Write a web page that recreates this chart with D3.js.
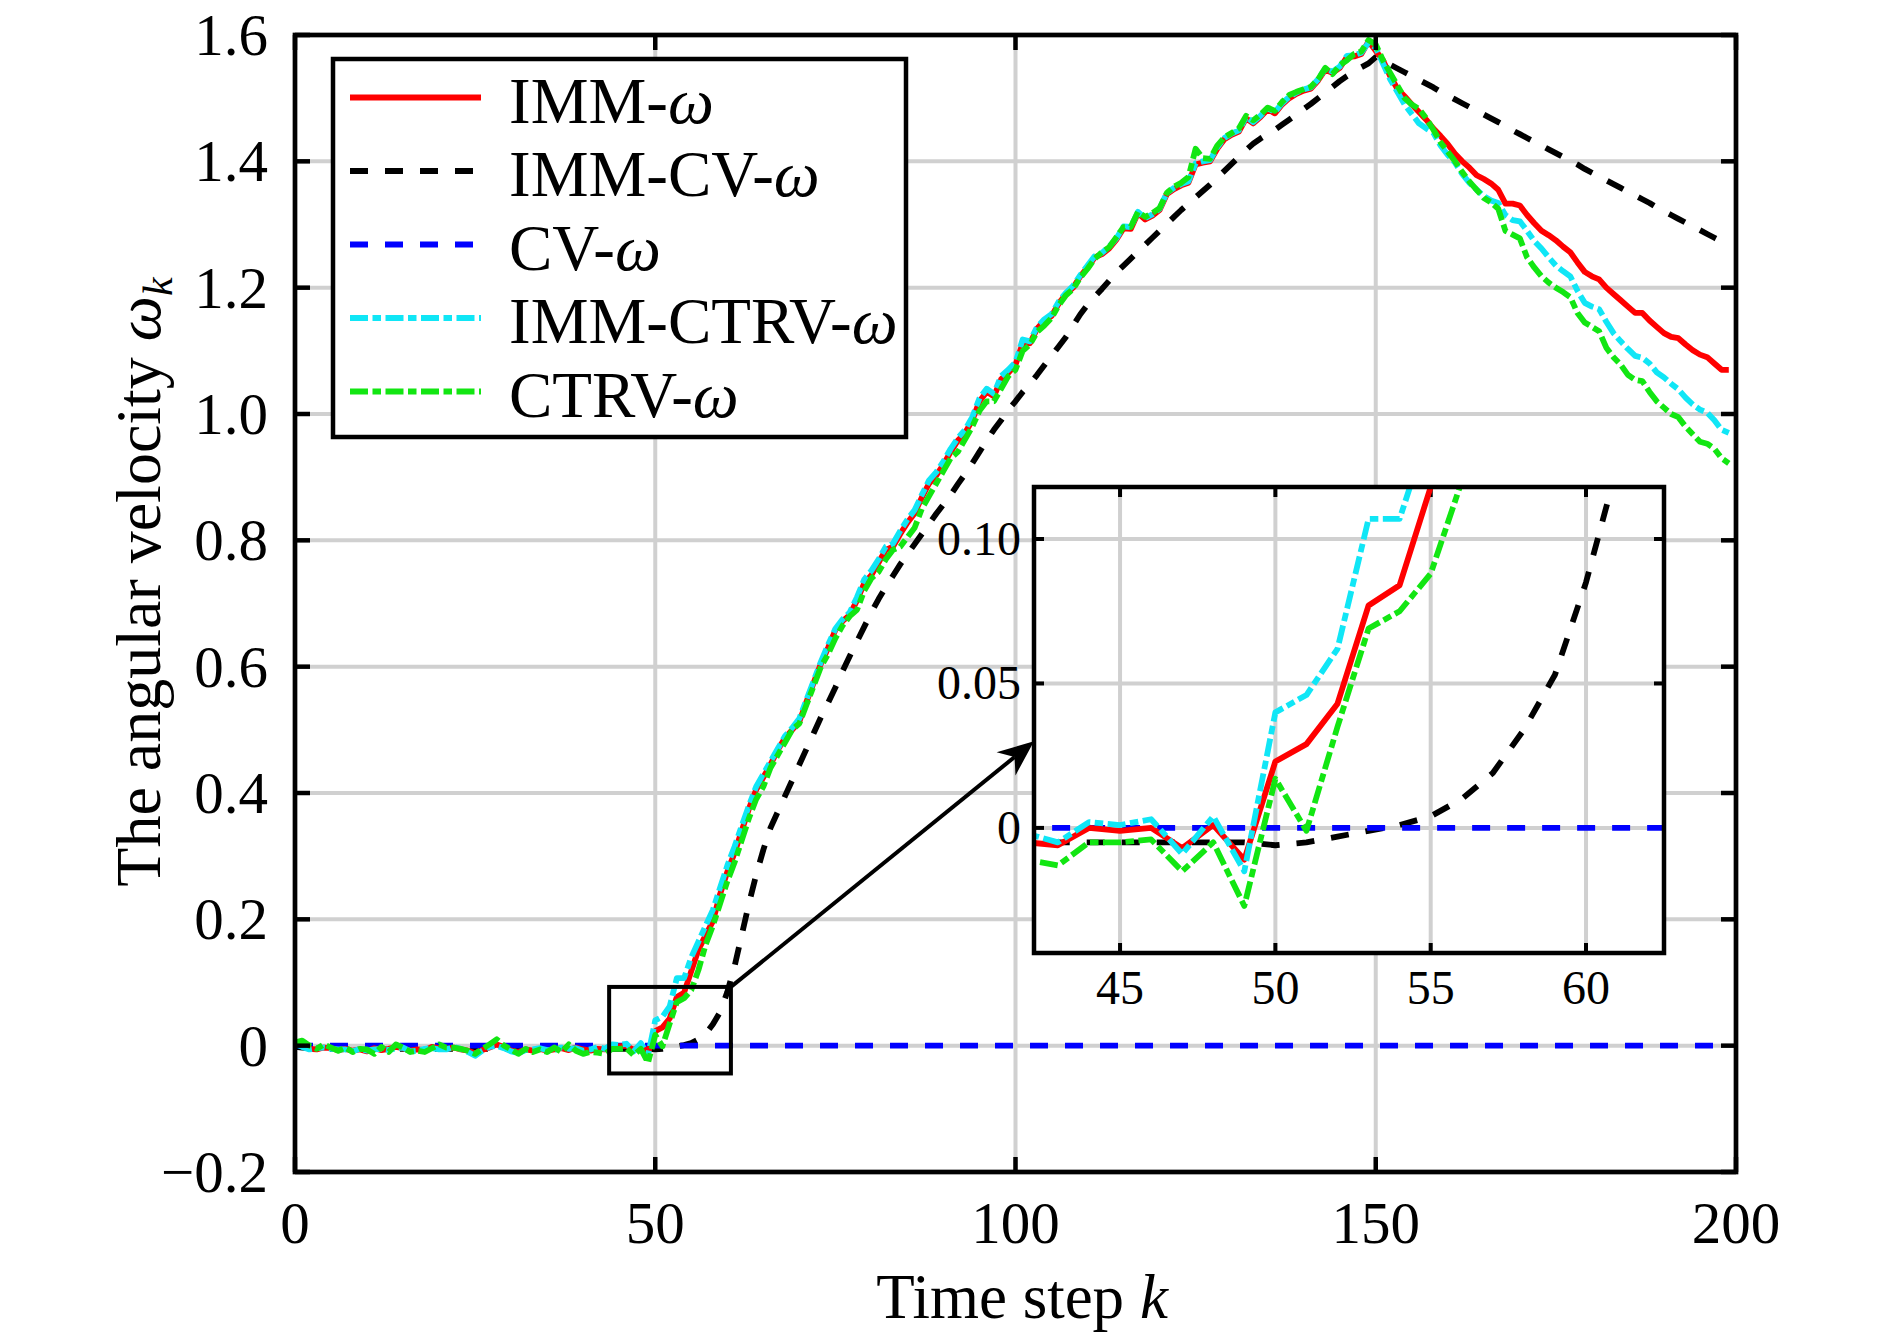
<!DOCTYPE html>
<html><head><meta charset="utf-8">
<script src="https://cdn.jsdelivr.net/npm/d3@7"></script>
<style>html,body{margin:0;padding:0;background:#fff;} svg{display:block;}</style>
</head><body>
<svg id="chart" width="1890" height="1341"></svg>
<script>
// ---------- data ----------
const timeSteps = d3.range(0, 200); // k = 0..199

const immOmega = [
 0.005, 0.000,-0.005,-0.006,-0.003,-0.004,-0.007,-0.005,-0.008,-0.006,
-0.009,-0.004,-0.007,-0.005,-0.002,-0.004,-0.008,-0.006,-0.007,-0.002,
-0.004,-0.005,-0.003,-0.006,-0.008,-0.012,-0.007,-0.003, 0.002,-0.002,
-0.008,-0.010,-0.006,-0.008,-0.005,-0.008,-0.006,-0.004,-0.007,-0.003,
-0.006,-0.008,-0.005,-0.006, 0.000,-0.001, 0.000,-0.007, 0.001,-0.011,
 0.023, 0.029, 0.043, 0.077, 0.084, 0.118, 0.152, 0.175, 0.197, 0.240,
 0.275, 0.305, 0.340, 0.375, 0.405, 0.425, 0.445, 0.468, 0.487, 0.500,
 0.513, 0.545, 0.575, 0.605, 0.630, 0.658, 0.672, 0.682, 0.705, 0.732,
 0.745, 0.765, 0.785, 0.790, 0.810, 0.828, 0.843, 0.868, 0.890, 0.903,
 0.920, 0.940, 0.958, 0.970, 0.990, 1.020, 1.035, 1.028, 1.055, 1.065,
 1.078, 1.112, 1.112, 1.135, 1.148, 1.155, 1.175, 1.190, 1.200, 1.218,
 1.232, 1.248, 1.253, 1.262, 1.276, 1.294, 1.293, 1.318, 1.308, 1.314,
 1.323, 1.348, 1.356, 1.362, 1.366, 1.395, 1.398, 1.400, 1.420, 1.435,
 1.442, 1.447, 1.468, 1.460, 1.470, 1.482, 1.476, 1.490, 1.500, 1.507,
 1.512, 1.515, 1.528, 1.545, 1.540, 1.548, 1.565, 1.566, 1.570, 1.590,
 1.575, 1.560, 1.535, 1.515, 1.503, 1.490, 1.478, 1.466, 1.452, 1.440,
 1.427, 1.412, 1.400, 1.390, 1.378, 1.372, 1.365, 1.355, 1.333, 1.333,
 1.330, 1.315, 1.302, 1.290, 1.283, 1.275, 1.265, 1.256, 1.240, 1.225,
 1.218, 1.213, 1.200, 1.190, 1.180, 1.170, 1.160, 1.160, 1.148, 1.138,
 1.128, 1.122, 1.120, 1.110, 1.101, 1.094, 1.090, 1.080, 1.070, 1.070
];

const immCvOmega = [
-0.002,-0.003,-0.004,-0.004,-0.005,-0.005,-0.005,-0.005,-0.005,-0.005,
-0.005,-0.005,-0.005,-0.005,-0.005,-0.005,-0.005,-0.005,-0.005,-0.005,
-0.005,-0.005,-0.005,-0.005,-0.005,-0.005,-0.005,-0.005,-0.005,-0.005,
-0.005,-0.005,-0.005,-0.005,-0.005,-0.005,-0.005,-0.005,-0.005,-0.005,
-0.005,-0.005,-0.005,-0.005,-0.005,-0.005,-0.005,-0.005,-0.005,-0.005,
-0.006,-0.005,-0.003,-0.001, 0.001, 0.004, 0.010, 0.019, 0.034, 0.053,
 0.085, 0.125, 0.175, 0.225, 0.270, 0.310, 0.345, 0.370, 0.395, 0.420,
 0.445, 0.470, 0.495, 0.520, 0.543, 0.567, 0.593, 0.617, 0.640, 0.663,
 0.686, 0.707, 0.726, 0.744, 0.762, 0.778, 0.794, 0.810, 0.826, 0.842,
 0.857, 0.872, 0.889, 0.905, 0.922, 0.940, 0.958, 0.975, 0.990, 1.007,
 1.020, 1.035, 1.048, 1.062, 1.077, 1.092, 1.107, 1.122, 1.140, 1.158,
 1.173, 1.186, 1.198, 1.211, 1.224, 1.235, 1.246, 1.257, 1.268, 1.279,
 1.290, 1.301, 1.312, 1.323, 1.333, 1.343, 1.353, 1.363, 1.374, 1.385,
 1.396, 1.407, 1.418, 1.428, 1.436, 1.443, 1.450, 1.458, 1.466, 1.474,
 1.483, 1.491, 1.500, 1.509, 1.518, 1.527, 1.535, 1.542, 1.549, 1.555,
 1.565, 1.559, 1.553, 1.547, 1.541, 1.535, 1.529, 1.523, 1.517, 1.510,
 1.504, 1.498, 1.492, 1.486, 1.480, 1.474, 1.468, 1.462, 1.456, 1.449,
 1.443, 1.437, 1.431, 1.425, 1.419, 1.413, 1.407, 1.401, 1.395, 1.388,
 1.382, 1.376, 1.370, 1.364, 1.358, 1.352, 1.346, 1.340, 1.334, 1.327,
 1.321, 1.315, 1.309, 1.303, 1.297, 1.291, 1.285, 1.279, 1.273, 1.266
];

const cvOmega = [
 0,0,0,0,0,0,0,0,0,0, 0,0,0,0,0,0,0,0,0,0,
 0,0,0,0,0,0,0,0,0,0, 0,0,0,0,0,0,0,0,0,0,
 0,0,0,0,0,0,0,0,0,0, 0,0,0,0,0,0,0,0,0,0,
 0,0,0,0,0,0,0,0,0,0, 0,0,0,0,0,0,0,0,0,0,
 0,0,0,0,0,0,0,0,0,0, 0,0,0,0,0,0,0,0,0,0,
 0,0,0,0,0,0,0,0,0,0, 0,0,0,0,0,0,0,0,0,0,
 0,0,0,0,0,0,0,0,0,0, 0,0,0,0,0,0,0,0,0,0,
 0,0,0,0,0,0,0,0,0,0, 0,0,0,0,0,0,0,0,0,0,
 0,0,0,0,0,0,0,0,0,0, 0,0,0,0,0,0,0,0,0,0,
 0,0,0,0,0,0,0,0,0,0, 0,0,0,0,0,0,0,0,0,0
];

const immCtrvOmega = [
 0.003,-0.002,-0.006,-0.004,-0.003,-0.005,-0.006,-0.006,-0.009,-0.005,
-0.008,-0.006,-0.005,-0.007,-0.004,-0.003,-0.009,-0.008,-0.005,-0.004,
-0.006,-0.006,-0.002,-0.005,-0.010,-0.016,-0.008,-0.002, 0.000,-0.004,
-0.009,-0.012,-0.007,-0.006,-0.004,-0.007,-0.007,-0.003,-0.005,-0.004,
-0.008,-0.006,-0.002,-0.005, 0.002, 0.001, 0.003,-0.009, 0.004,-0.015,
 0.040, 0.046, 0.062, 0.107, 0.107, 0.140, 0.165, 0.190, 0.215, 0.250,
 0.285, 0.315, 0.348, 0.380, 0.410, 0.430, 0.450, 0.470, 0.490, 0.503,
 0.518, 0.548, 0.578, 0.608, 0.635, 0.660, 0.675, 0.686, 0.710, 0.738,
 0.752, 0.770, 0.790, 0.795, 0.815, 0.833, 0.848, 0.872, 0.895, 0.908,
 0.925, 0.945, 0.962, 0.975, 0.995, 1.025, 1.040, 1.032, 1.060, 1.070,
 1.082, 1.118, 1.115, 1.138, 1.150, 1.158, 1.178, 1.192, 1.203, 1.220,
 1.235, 1.250, 1.255, 1.265, 1.278, 1.297, 1.296, 1.320, 1.310, 1.316,
 1.325, 1.350, 1.358, 1.364, 1.368, 1.397, 1.400, 1.402, 1.422, 1.437,
 1.444, 1.449, 1.470, 1.462, 1.472, 1.484, 1.478, 1.492, 1.502, 1.509,
 1.514, 1.517, 1.530, 1.547, 1.542, 1.550, 1.567, 1.568, 1.572, 1.588,
 1.580, 1.555, 1.530, 1.510, 1.490, 1.475, 1.460, 1.452, 1.445, 1.425,
 1.410, 1.398, 1.380, 1.366, 1.355, 1.345, 1.338, 1.334, 1.315, 1.307,
 1.305, 1.290, 1.274, 1.262, 1.248, 1.235, 1.226, 1.218, 1.195, 1.176,
 1.170, 1.166, 1.146, 1.128, 1.115, 1.103, 1.092, 1.089, 1.080, 1.066,
 1.058, 1.048, 1.039, 1.026, 1.015, 1.007, 1.002, 0.990, 0.975, 0.970
];

const ctrvOmega = [
 0.005, 0.008, 0.000,-0.005, 0.002,-0.003,-0.008,-0.003,-0.010,-0.005,
-0.006,-0.013,-0.002,-0.010, 0.002,-0.003,-0.010,-0.008,-0.010,-0.004,
 0.002,-0.003,-0.003,-0.005,-0.008,-0.013,-0.005, 0.002, 0.010, 0.000,
-0.006,-0.013,-0.005,-0.010,-0.006,-0.010,-0.003,-0.010, 0.002,-0.008,
-0.013,-0.010,-0.011,-0.013,-0.005,-0.005,-0.004,-0.015,-0.005,-0.027,
 0.017,-0.001, 0.035, 0.069, 0.075, 0.088, 0.120, 0.160, 0.190, 0.225,
 0.260, 0.290, 0.325, 0.360, 0.390, 0.410, 0.440, 0.460, 0.480, 0.500,
 0.510, 0.540, 0.570, 0.600, 0.620, 0.645, 0.665, 0.680, 0.690, 0.720,
 0.740, 0.750, 0.770, 0.785, 0.790, 0.805, 0.820, 0.850, 0.870, 0.890,
 0.910, 0.930, 0.940, 0.960, 0.980, 1.005, 1.020, 1.020, 1.040, 1.060,
 1.070, 1.100, 1.110, 1.130, 1.140, 1.152, 1.172, 1.188, 1.198, 1.216,
 1.230, 1.246, 1.256, 1.264, 1.280, 1.296, 1.296, 1.320, 1.312, 1.318,
 1.326, 1.350, 1.360, 1.366, 1.375, 1.420, 1.405, 1.404, 1.425, 1.438,
 1.445, 1.452, 1.472, 1.465, 1.474, 1.485, 1.480, 1.494, 1.505, 1.510,
 1.514, 1.518, 1.530, 1.548, 1.538, 1.552, 1.560, 1.570, 1.574, 1.592,
 1.585, 1.560, 1.540, 1.520, 1.500, 1.490, 1.483, 1.468, 1.450, 1.430,
 1.415, 1.400, 1.383, 1.368, 1.355, 1.342, 1.335, 1.325, 1.290, 1.284,
 1.278, 1.248, 1.232, 1.218, 1.208, 1.200, 1.193, 1.185, 1.160, 1.145,
 1.138, 1.131, 1.105, 1.090, 1.078, 1.062, 1.054, 1.052, 1.035, 1.020,
 1.010, 1.000, 0.995, 0.980, 0.968, 0.956, 0.953, 0.945, 0.930, 0.922
];

const seriesLabels = ["IMM-", "IMM-CV-", "CV-", "IMM-CTRV-", "CTRV-"];
const xTickValues = [0, 50, 100, 150, 200];
const xTickLabels = ["0", "50", "100", "150", "200"];
const yTickValues = [-0.2, 0, 0.2, 0.4, 0.6, 0.8, 1.0, 1.2, 1.4, 1.6];
const yTickLabels = ["\u22120.2", "0", "0.2", "0.4", "0.6", "0.8", "1.0", "1.2", "1.4", "1.6"];
const insetXTickValues = [45, 50, 55, 60];
const insetXTickLabels = ["45", "50", "55", "60"];
const insetYTickValues = [0, 0.05, 0.10];
const insetYTickLabels = ["0", "0.05", "0.10"];
const insetXDomain = [42.23, 62.51];
const insetYDomain = [-0.0433, 0.118];
const zoomBoxX = [43.6, 60.5];
const zoomBoxY = [-0.044, 0.093];
const arrowTargetY = 0.030;

// ---------- styles / layout ----------
const FONT = "'Liberation Serif','Times New Roman',serif";
const LW = 5.8;
const styles = [
  { color: "#ff0000", dash: null },
  { color: "#000000", dash: "18,17" },
  { color: "#0000ff", dash: "18,17" },
  { color: "#10e6f6", dash: "18,4.5,8.5,4.5" },
  { color: "#12e612", dash: "18,4.5,8.5,4.5" }
];
const seriesValues = [immOmega, immCvOmega, cvOmega, immCtrvOmega, ctrvOmega];
const drawOrder = [1, 2, 0, 3, 4];

const svg = d3.select("#chart");
svg.append("rect").attr("width", 1890).attr("height", 1341).attr("fill", "#fff");

const M = { left: 295, right: 1736, top: 35, bottom: 1172 };
const x = d3.scaleLinear().domain([0, 200]).range([M.left, M.right]);
const y = d3.scaleLinear().domain([-0.2, 1.6]).range([M.bottom, M.top]);

const defs = svg.append("defs");
defs.append("clipPath").attr("id", "mainClip").append("rect")
  .attr("x", M.left).attr("y", M.top).attr("width", M.right - M.left).attr("height", M.bottom - M.top);

const GRID = "#d0d0d0";
const GW = 4;
// grid
const grid = svg.append("g");
xTickValues.slice(1, -1).forEach(v => grid.append("line").attr("x1", x(v)).attr("x2", x(v)).attr("y1", M.top).attr("y2", M.bottom).attr("stroke", GRID).attr("stroke-width", GW));
yTickValues.slice(1, -1).forEach(v => grid.append("line").attr("x1", M.left).attr("x2", M.right).attr("y1", y(v)).attr("y2", y(v)).attr("stroke", GRID).attr("stroke-width", GW));

// series main
const line = d3.line().x((d, i) => x(timeSteps[i])).y(d => y(d));
const gMain = svg.append("g").attr("clip-path", "url(#mainClip)");
drawOrder.forEach(si => {
  gMain.append("path").datum(seriesValues[si]).attr("d", line)
    .attr("fill", "none").attr("stroke", styles[si].color).attr("stroke-width", LW)
    .attr("stroke-dasharray", styles[si].dash).attr("stroke-linejoin", "round");
});

// axes box & ticks
const axes = svg.append("g");
const TL = 15;
xTickValues.forEach(v => {
  axes.append("line").attr("x1", x(v)).attr("x2", x(v)).attr("y1", M.bottom).attr("y2", M.bottom - TL).attr("stroke", "#000").attr("stroke-width", 4.5);
  axes.append("line").attr("x1", x(v)).attr("x2", x(v)).attr("y1", M.top).attr("y2", M.top + TL).attr("stroke", "#000").attr("stroke-width", 4.5);
});
yTickValues.forEach(v => {
  axes.append("line").attr("x1", M.left).attr("x2", M.left + TL).attr("y1", y(v)).attr("y2", y(v)).attr("stroke", "#000").attr("stroke-width", 4.5);
  axes.append("line").attr("x1", M.right).attr("x2", M.right - TL).attr("y1", y(v)).attr("y2", y(v)).attr("stroke", "#000").attr("stroke-width", 4.5);
});
axes.append("rect").attr("x", M.left).attr("y", M.top).attr("width", M.right - M.left).attr("height", M.bottom - M.top)
  .attr("fill", "none").attr("stroke", "#000").attr("stroke-width", 4.7);

// tick labels
xTickValues.forEach((v, i) => svg.append("text").attr("x", x(v)).attr("y", M.bottom + 71)
  .attr("text-anchor", "middle").attr("font-family", FONT).attr("font-size", 59).text(xTickLabels[i]));
yTickValues.forEach((v, i) => svg.append("text").attr("x", M.left - 27).attr("y", y(v) + 20)
  .attr("text-anchor", "end").attr("font-family", FONT).attr("font-size", 59).text(yTickLabels[i]));

// axis titles
const xt = svg.append("text").attr("x", 1022).attr("y", 1318).attr("text-anchor", "middle")
  .attr("font-family", FONT).attr("font-size", 63);
xt.append("tspan").text("Time step ");
xt.append("tspan").attr("font-style", "italic").text("k");

const yt = svg.append("text").attr("transform", "translate(160,582) rotate(-90)").attr("text-anchor", "middle")
  .attr("font-family", FONT).attr("font-size", 64);
yt.append("tspan").text("The angular velocity ");
yt.append("tspan").attr("font-style", "italic").text("\u03c9");
yt.append("tspan").attr("font-style", "italic").attr("font-size", 42).attr("dy", 12).text("k");

// zoom box on main plot
svg.append("rect").attr("x", x(zoomBoxX[0])).attr("y", y(zoomBoxY[1]))
  .attr("width", x(zoomBoxX[1]) - x(zoomBoxX[0])).attr("height", y(zoomBoxY[0]) - y(zoomBoxY[1]))
  .attr("fill", "none").attr("stroke", "#000").attr("stroke-width", 4);

// ---------- inset ----------
const I = { left: 1034, right: 1664, top: 487, bottom: 953 };
const xi = d3.scaleLinear().domain(insetXDomain).range([I.left, I.right]);
const yi = d3.scaleLinear().domain(insetYDomain).range([I.bottom, I.top]);
defs.append("clipPath").attr("id", "insetClip").append("rect")
  .attr("x", I.left).attr("y", I.top).attr("width", I.right - I.left).attr("height", I.bottom - I.top);

svg.append("rect").attr("x", I.left).attr("y", I.top).attr("width", I.right - I.left).attr("height", I.bottom - I.top).attr("fill", "#fff");
const ig = svg.append("g");
insetXTickValues.forEach(v => ig.append("line").attr("x1", xi(v)).attr("x2", xi(v)).attr("y1", I.top).attr("y2", I.bottom).attr("stroke", GRID).attr("stroke-width", GW));
insetYTickValues.forEach(v => ig.append("line").attr("x1", I.left).attr("x2", I.right).attr("y1", yi(v)).attr("y2", yi(v)).attr("stroke", GRID).attr("stroke-width", GW));

const lineI = d3.line().x((d, i) => xi(timeSteps[i])).y(d => yi(d));
const gIn = svg.append("g").attr("clip-path", "url(#insetClip)");
drawOrder.forEach(si => {
  gIn.append("path").datum(seriesValues[si]).attr("d", lineI)
    .attr("fill", "none").attr("stroke", styles[si].color).attr("stroke-width", LW)
    .attr("stroke-dasharray", styles[si].dash).attr("stroke-linejoin", "round");
});
const TLi = 10;
insetXTickValues.forEach(v => {
  ig.append("line").attr("x1", xi(v)).attr("x2", xi(v)).attr("y1", I.bottom).attr("y2", I.bottom - TLi).attr("stroke", "#000").attr("stroke-width", 4);
  ig.append("line").attr("x1", xi(v)).attr("x2", xi(v)).attr("y1", I.top).attr("y2", I.top + TLi).attr("stroke", "#000").attr("stroke-width", 4);
});
insetYTickValues.forEach(v => {
  ig.append("line").attr("x1", I.left).attr("x2", I.left + TLi).attr("y1", yi(v)).attr("y2", yi(v)).attr("stroke", "#000").attr("stroke-width", 4);
  ig.append("line").attr("x1", I.right).attr("x2", I.right - TLi).attr("y1", yi(v)).attr("y2", yi(v)).attr("stroke", "#000").attr("stroke-width", 4);
});
svg.append("rect").attr("x", I.left).attr("y", I.top).attr("width", I.right - I.left).attr("height", I.bottom - I.top)
  .attr("fill", "none").attr("stroke", "#000").attr("stroke-width", 4.5);
insetXTickValues.forEach((v, i) => svg.append("text").attr("x", xi(v)).attr("y", I.bottom + 51)
  .attr("text-anchor", "middle").attr("font-family", FONT).attr("font-size", 48).text(insetXTickLabels[i]));
insetYTickValues.forEach((v, i) => svg.append("text").attr("x", I.left - 13).attr("y", yi(v) + 16)
  .attr("text-anchor", "end").attr("font-family", FONT).attr("font-size", 48).text(insetYTickLabels[i]));

// arrow
const ax0 = x(zoomBoxX[1]), ay0 = y(zoomBoxY[1]);
const ax1 = xi(insetXDomain[0]), ay1 = yi(arrowTargetY);
const dx = ax1 - ax0, dy = ay1 - ay0, len = Math.hypot(dx, dy);
const ux = dx / len, uy = dy / len, nx = -uy, ny = ux;
const HL = 36, HW = 15, NOTCH = 11;
svg.append("line").attr("x1", ax0).attr("y1", ay0).attr("x2", ax1 - ux * (HL - NOTCH)).attr("y2", ay1 - uy * (HL - NOTCH))
  .attr("stroke", "#000").attr("stroke-width", 4);
svg.append("path").attr("d", `M${ax1},${ay1} L${ax1 - ux * HL + nx * HW},${ay1 - uy * HL + ny * HW} L${ax1 - ux * (HL - NOTCH)},${ay1 - uy * (HL - NOTCH)} L${ax1 - ux * HL - nx * HW},${ay1 - uy * HL - ny * HW} Z`)
  .attr("fill", "#000");

// ---------- legend ----------
const L = { x: 333, y: 59, w: 573, h: 378 };
const lg = svg.append("g");
lg.append("rect").attr("x", L.x).attr("y", L.y).attr("width", L.w).attr("height", L.h)
  .attr("fill", "#fff").attr("stroke", "#000").attr("stroke-width", 4.5);
const rowY = [97.5, 171, 244.5, 318, 391.5];
seriesLabels.forEach((lab, i) => {
  lg.append("line").attr("x1", 350).attr("x2", 481).attr("y1", rowY[i]).attr("y2", rowY[i])
    .attr("stroke", styles[i].color).attr("stroke-width", LW).attr("stroke-dasharray", styles[i].dash);
  const t = lg.append("text").attr("x", 509).attr("y", rowY[i] + 25).attr("font-family", FONT).attr("font-size", 65);
  t.append("tspan").text(lab);
  t.append("tspan").attr("font-style", "italic").text("\u03c9");
});
</script>
</body></html>
